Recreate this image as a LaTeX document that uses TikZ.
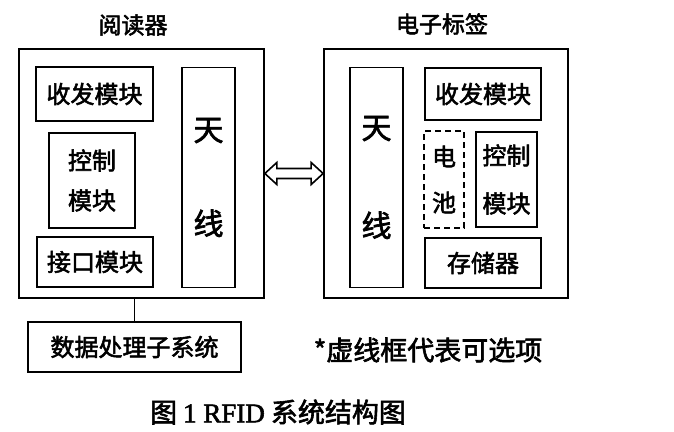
\documentclass[tikz,border=0pt]{standalone}
\usepackage{fontspec}
\setmainfont{Noto Sans CJK SC}[AutoFakeBold=2.2]
\newfontfamily\capserif{Liberation Serif}[AutoFakeBold=2.2]
\usetikzlibrary{positioning, calc}

\tikzset{
    module/.style={draw, line width=1.6pt, inner sep=0pt, align=center,
        font=\fontsize{24}{40}\selectfont\bfseries},
    system/.style={draw, line width=1.7pt, inner sep=0pt},
    optional/.style={module, dashed, dash pattern=on 6pt off 4pt},
    antenna/.style={module, minimum width=53pt, minimum height=220pt,
        font=\fontsize{30}{36}\selectfont\bfseries},
    heading/.style={font=\fontsize{23}{28}\selectfont\bfseries},
    link/.style={line width=1.6pt, line join=miter}
}

\begin{document}
\begin{tikzpicture}[x=1pt, y=1pt]
    \useasboundingbox (0,0) rectangle (674,-431);

    % reader side
    \node[system, minimum width=245pt, minimum height=249pt] (reader) at (141.5,-173.5) {};
    \node[heading] (readerTitle) at (133,-25) {阅读器};
    \node[module, minimum width=117pt, minimum height=54pt] (rTrx) at (94.5,-94) {收发模块};
    \node[module, minimum width=86pt, minimum height=95pt] (rCtrl) at (92,-180.5) {控制\\模块};
    \node[module, minimum width=116pt, minimum height=50pt] (rIf) at (95,-262) {接口模块};
    \node[antenna] (rAnt) at (208.5,-177.5) {天\\[58pt]线};

    % tag side
    \node[system, minimum width=244pt, minimum height=249pt] (tag) at (446,-173.5) {};
    \node[heading] (tagTitle) at (442,-24) {电子标签};
    \node[antenna] (tAnt) at (376.5,-177.5) {天\\[62pt]线};
    \node[module, minimum width=116pt, minimum height=52pt] (tTrx) at (483,-94) {收发模块};
    \node[optional, minimum width=40pt, minimum height=97pt,
        font=\fontsize{24}{46}\selectfont\bfseries] (battery) at (444,-179.5) {电\\池};
    \node[module, minimum width=61pt, minimum height=95pt,
        font=\fontsize{24}{48}\selectfont\bfseries] (tCtrl) at (506.5,-179.5) {控制\\模块};
    \node[module, minimum width=116pt, minimum height=50pt] (memory) at (483,-263) {存储器};

    % data processing
    \node[module, minimum width=213pt, minimum height=50pt] (dps) at (134.5,-347) {数据处理子系统};
    \draw[line width=1.6pt] (dps.north) -- (dps.north |- reader.south);

    % air interface
    \draw[link] (reader.east) -- ++(12,11) -- ++(0,-6) -- ($(tag.west)+(-12,5)$)
        -- ++(0,6) -- (tag.west) -- ++(-12,-11) -- ++(0,6)
        -- ($(reader.east)+(12,-5)$) -- ++(0,-6) -- cycle;

    \node[font=\fontsize{27}{30}\selectfont\bfseries] (note) at (428,-350) {*虚线框代表可选项};
    \node[font=\fontsize{27}{30}\selectfont\bfseries] (caption) at (278,-412)
        {图 {\capserif 1 RFID} 系统结构图};
\end{tikzpicture}
\end{document}
